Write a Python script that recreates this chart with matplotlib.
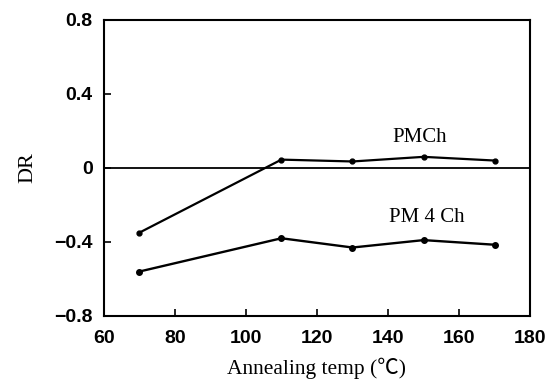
import numpy as np
import matplotlib
matplotlib.use('Agg')
import matplotlib.pyplot as plt

# valori
temp = [70, 110, 130, 150, 170]
dr_pmch = [-0.35, 0.045, 0.035, 0.06, 0.04]
dr_pm4ch = [-0.56, -0.38, -0.43, -0.39, -0.415]
xticks = [60, 80, 100, 120, 140, 160, 180]
yticks = [-0.8, -0.4, 0, 0.4, 0.8]
ytick_labels = ['\u22120.8', '\u22120.4', '0', '0.4', '0.8']

serif = ['Liberation Serif', 'Noto Sans CJK JP']

fig = plt.figure(figsize=(5.46, 3.83), dpi=100)
ax = fig.add_axes([0.19, 0.175, 0.781, 0.773])

ax.axhline(0, color='black', lw=1.3)
ax.plot(temp, dr_pmch, color='black', lw=1.6, marker='o', ms=3.5)
ax.plot(temp, dr_pm4ch, color='black', lw=1.7, marker='o', ms=4)

ax.text(149, 0.165, 'PMCh', ha='center', va='center',
        family=serif, fontsize=15)
ax.text(151, -0.27, 'PM 4 Ch', ha='center', va='center',
        family=serif, fontsize=15)

ax.set_xlim(60, 180)
ax.set_ylim(-0.8, 0.8)
ax.set_xticks(xticks)
ax.set_yticks(yticks)
ax.set_yticklabels(ytick_labels)
ax.tick_params(direction='in', length=5, width=1.2, top=False, right=False,
               labelsize=14)
ax.tick_params(axis='x', pad=10)
ax.tick_params(axis='y', pad=8)
for lab in ax.get_xticklabels() + ax.get_yticklabels():
    lab.set_family('Liberation Sans')
    lab.set_fontweight('bold')
for s in ax.spines.values():
    s.set_linewidth(1.5)

ax.set_xlabel('Annealing temp (\u2103)', family=serif,
              fontsize=15.5, labelpad=8)
ax.set_ylabel('DR', family=serif, fontsize=16, labelpad=12)

fig.savefig('out.png', dpi=100)
